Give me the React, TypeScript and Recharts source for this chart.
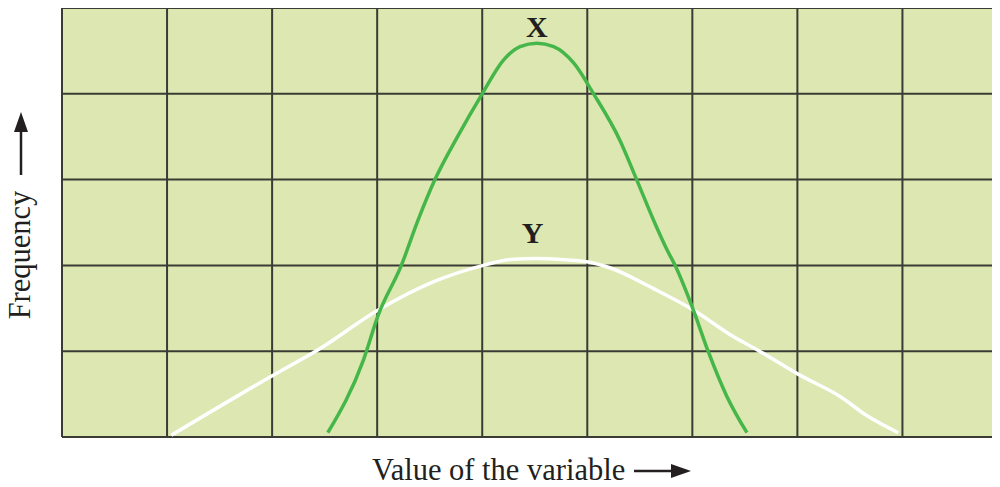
import { CartesianGrid, Line, LineChart, ReferenceDot, ReferenceLine, XAxis, YAxis } from "recharts";

// curve X: [value of the variable, frequency]
const curveXPoints: [number, number][] = [
  [2.53, 0.05], [2.87, 0.9], [3.01, 1.42], [3.23, 2.0], [3.39, 2.53],
  [3.55, 3.0], [3.76, 3.49], [4.0, 4.0], [4.2, 4.39], [4.36, 4.55],
  [4.52, 4.59], [4.68, 4.55], [4.87, 4.36], [5.06, 4.0], [5.31, 3.46],
  [5.47, 3.0], [5.63, 2.53], [5.76, 2.18], [5.84, 1.99], [6.01, 1.48],
  [6.15, 1.0], [6.33, 0.47], [6.52, 0.05],
];

// curve Y
const curveYPoints: [number, number][] = [
  [1.04, 0.02], [2.01, 0.72], [2.43, 1.01], [3.01, 1.48], [3.54, 1.81],
  [4.01, 2.0], [4.27, 2.07], [4.52, 2.08], [4.74, 2.07], [5.01, 2.04],
  [5.22, 1.97], [5.63, 1.73], [6.01, 1.48], [6.39, 1.17], [6.64, 1.0],
  [7.01, 0.73], [7.41, 0.47], [7.66, 0.25], [7.96, 0.05],
];

const xTicks = [0, 1, 2, 3, 4, 5, 6, 7, 8, 9];
const yTicks = [0, 1, 2, 3, 4, 5];

const curveLabels = [
  { name: "X", x: 4.52, y: 4.79 },
  { name: "Y", x: 4.48, y: 2.39 },
];

const FONT = "'Liberation Serif', 'DejaVu Serif', serif";
const INK = "#231f20";
const GRID = "#3b3b35";

const toRows = (pts: [number, number][]) => pts.map(([v, f]) => ({ v, f }));

function XTitle(props: any) {
  const vb = props.viewBox ?? { x: 62, y: 437 };
  const bx = vb.x + 310;
  const by = vb.y + 43;
  return (
    <g>
      <text x={bx} y={by} textAnchor="start" fontFamily={FONT} fontSize={30.5} fill={INK}>
        Value of the variable
      </text>
      <line x1={bx + 262} y1={by - 9} x2={bx + 302} y2={by - 9} stroke={INK} strokeWidth={2.5} />
      <polygon points={`${bx + 319},${by - 9} ${bx + 299},${by - 16} ${bx + 299},${by - 2}`} fill={INK} />
    </g>
  );
}

function YTitle() {
  const cx = 30;
  const cy = 255;
  return (
    <g>
      <text
        x={cx}
        y={cy}
        textAnchor="middle"
        transform={`rotate(-90, ${cx}, ${cy})`}
        fontFamily={FONT}
        fontSize={30.5}
        fill={INK}
      >
        Frequency
      </text>
      <line x1={21} y1={175} x2={21} y2={128} stroke={INK} strokeWidth={2.5} />
      <polygon points="21,112 14,132 28,132" fill={INK} />
    </g>
  );
}

export default function App() {
  return (
    <div
      style={{
        position: "relative",
        width: 1000,
        height: 487,
        marginLeft: -8,
        marginTop: -8,
        overflow: "hidden",
        background: "#fff",
      }}
    >
      <LineChart width={1010} height={487} margin={{ top: 8, right: 2.5, left: 0, bottom: 0 }}>
        <CartesianGrid fill="#dce7b1" fillOpacity={1} stroke="none" horizontal={false} vertical={false} />
        <XAxis
          type="number"
          dataKey="v"
          domain={[0, 9]}
          ticks={xTicks}
          tick={false}
          tickLine={false}
          axisLine={false}
          height={50}
          allowDataOverflow
          label={{ content: <XTitle /> }}
        />
        <YAxis
          type="number"
          dataKey="f"
          domain={[0, 5]}
          ticks={yTicks}
          tick={false}
          tickLine={false}
          axisLine={false}
          width={62}
          allowDataOverflow
          label={{ content: <YTitle /> }}
        />
        {xTicks.map((t) => (
          <ReferenceLine key={`vx${t}`} x={t} stroke={GRID} strokeWidth={2} ifOverflow="extendDomain" />
        ))}
        {yTicks.map((t) => (
          <ReferenceLine key={`hy${t}`} y={t} stroke={GRID} strokeWidth={2} />
        ))}
        <Line
          data={toRows(curveYPoints)}
          dataKey="f"
          type="monotone"
          stroke="#ffffff"
          strokeWidth={3.5}
          dot={false}
          activeDot={false}
          isAnimationActive={false}
        />
        <Line
          data={toRows(curveXPoints)}
          dataKey="f"
          type="monotone"
          stroke="#45b649"
          strokeWidth={3.5}
          dot={false}
          activeDot={false}
          isAnimationActive={false}
        />
        {curveLabels.map((l) => (
          <ReferenceDot
            key={l.name}
            x={l.x}
            y={l.y}
            r={0}
            fill="none"
            stroke="none"
            label={{
              value: l.name,
              position: "center",
              fontFamily: FONT,
              fontSize: 30,
              fontWeight: "bold",
              fill: INK,
            }}
          />
        ))}
      </LineChart>
    </div>
  );
}
